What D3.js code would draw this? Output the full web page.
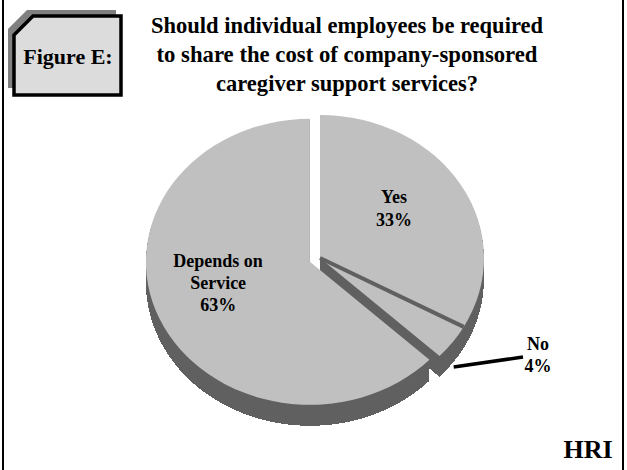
<!DOCTYPE html>
<html>
<head>
<meta charset="utf-8">
<script src="https://cdn.jsdelivr.net/npm/d3@7"></script>
<style>
  body { margin: 0; background: #fff; }
  svg { display: block; font-family: "Liberation Serif", "Times New Roman", serif; }
</style>
</head>
<body>
<svg id="chart" width="627" height="470"></svg>
<script>
// chart data
const categories = ["Yes", "No", "Depends on Service"];
const values = [33, 4, 63];
const labelLines = [["Yes", "33%"], ["No", "4%"], ["Depends on", "Service", "63%"]];
const explode = [0, 0, 11];
const titleLines = [
  "Should individual employees be required",
  "to share the cost of company-sponsored",
  "caregiver support services?"
];
const titleWidths = [392, 381, 262];
const figureLabel = "Figure E:";
const sourceLabel = "HRI";

const W = 627, H = 470;
const svg = d3.select("#chart");

const light = "#c0c0c0", dark = "#606060";

// frame lines left / right
svg.append("line").attr("x1", 3).attr("x2", 3).attr("y1", 0).attr("y2", H)
  .attr("stroke", "#000").attr("stroke-width", 2);
svg.append("line").attr("x1", 623).attr("x2", 623).attr("y1", 0).attr("y2", H)
  .attr("stroke", "#000").attr("stroke-width", 2);

// "Figure E:" tag with shadow and cut corner
function tagPath(x, y, w, h, c) {
  return `M${x},${y + c}L${x + c},${y}L${x + w},${y}L${x + w},${y + h}L${x},${y + h}Z`;
}
svg.append("path").attr("d", tagPath(8, 10, 108, 78, 19)).attr("fill", "#808080");
svg.append("path").attr("d", tagPath(14, 16, 107, 79, 19))
  .attr("fill", "#dcdcdc").attr("stroke", "#000").attr("stroke-width", 3.5);
svg.append("text").attr("x", 68).attr("y", 64).attr("text-anchor", "middle")
  .attr("font-size", 22).attr("font-weight", "bold").text(figureLabel);

// title
svg.append("g").selectAll("text").data(titleLines).join("text")
  .attr("x", 347).attr("y", (d, i) => 33 + i * 29)
  .attr("text-anchor", "middle")
  .attr("font-size", 24).attr("font-weight", "bold")
  .attr("textLength", (d, i) => titleWidths[i])
  .attr("lengthAdjust", "spacingAndGlyphs")
  .text(d => d);

// pie geometry
const cx = 320, cy = 258, rx = 164, ry = 143, depth = 21;
const ratio = ry / rx;

const pie = d3.pie().sort(null).value(d => d);
const arcs = pie(values);
const arc = d3.arc().innerRadius(0).outerRadius(rx);

function offset(d, i) {
  const mid = (d.startAngle + d.endAngle) / 2;
  return [explode[i] * Math.sin(mid), -explode[i] * Math.cos(mid) * ratio];
}

const pieG = svg.append("g");

// side walls: stacked copies of each slice shifted down
const sides = pieG.append("g").attr("shape-rendering", "crispEdges");
arcs.forEach((d, i) => {
  const [dx, dy] = offset(d, i);
  for (let k = depth; k >= 1; k--) {
    sides.append("path")
      .attr("d", arc(d))
      .attr("transform", `translate(${cx + dx},${cy + dy + k}) scale(1,${ratio})`)
      .attr("fill", dark);
  }
});

// top faces
pieG.append("g").selectAll("path").data(arcs).join("path")
  .attr("d", arc)
  .attr("transform", (d, i) => {
    const [dx, dy] = offset(d, i);
    return `translate(${cx + dx},${cy + dy}) scale(1,${ratio})`;
  })
  .attr("fill", light);

// separator between Yes and No
const sepA = arcs[0].endAngle;
pieG.append("line")
  .attr("x1", cx).attr("y1", cy)
  .attr("x2", cx + rx * Math.sin(sepA)).attr("y2", cy - ry * Math.cos(sepA))
  .attr("stroke", dark).attr("stroke-width", 4);

// labels
const labelG = svg.append("g").attr("font-weight", "bold").attr("font-size", 18)
  .attr("text-anchor", "middle");

function inner(d, i, r) {
  const mid = (d.startAngle + d.endAngle) / 2;
  const [dx, dy] = offset(d, i);
  return [cx + dx + r * Math.sin(mid), cy + dy - r * Math.cos(mid) * ratio];
}

// Yes
{
  const [x, y] = inner(arcs[0], 0, 100);
  labelG.append("text").attr("x", x - 12).attr("y", y - 11)
    .selectAll("tspan").data(labelLines[0]).join("tspan")
    .attr("x", x - 12).attr("dy", (d, j) => j ? 23 : 0).text(d => d);
}
// Depends on Service
{
  const [x, y] = inner(arcs[2], 2, 100);
  labelG.append("text").attr("x", x).attr("y", y - 29)
    .selectAll("tspan").data(labelLines[2]).join("tspan")
    .attr("x", x).attr("dy", (d, j) => j ? 22 : 0).text(d => d);
}
// No, with leader line
{
  const d = arcs[1];
  const mid = (d.startAngle + d.endAngle) / 2;
  const sx = cx + rx * Math.sin(mid) + 1;
  const sy = cy - ry * Math.cos(mid) + depth + 4;
  const ex = 523, ey = 357;
  svg.append("line").attr("x1", sx).attr("y1", sy).attr("x2", ex).attr("y2", ey)
    .attr("stroke", "#000").attr("stroke-width", 3.5);
  labelG.append("text").attr("x", 538).attr("y", 350)
    .selectAll("tspan").data(labelLines[1]).join("tspan")
    .attr("x", 538).attr("dy", (d, j) => j ? 22 : 0).text(d => d);
}

// source
svg.append("text").attr("x", 588).attr("y", 458).attr("text-anchor", "middle")
  .attr("font-size", 26).attr("font-weight", "bold").text(sourceLabel);
</script>
</body>
</html>
